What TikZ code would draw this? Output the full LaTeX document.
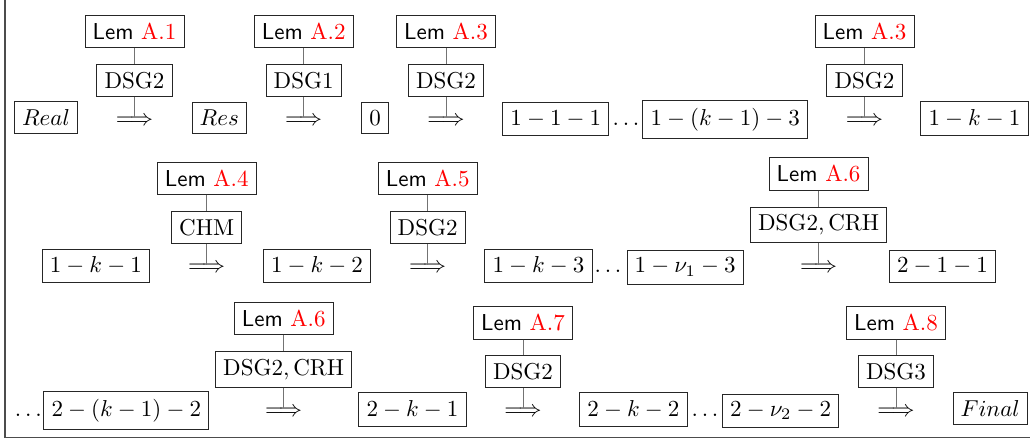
\documentclass[tikz,border=0pt]{standalone}
\usepackage{xcolor}
\newcommand{\lemref}[1]{\textsf{Lem} \textcolor{red}{A.#1}}
\begin{document}
\begin{tikzpicture}[x=0.4348pt,y=-0.4348pt,
  box/.style={draw=black!85, line width=0.4pt, inner sep=3.33pt, anchor=base},
  conn/.style={draw=black!55, line width=0.4pt},
  arr/.style={inner sep=0pt, anchor=base},
  dotsnode/.style={inner sep=0pt, anchor=base},
  frame/.style={draw=black!70, line width=0.6pt}]
\useasboundingbox (0,0) rectangle (1030,442);
\draw[frame] (5,0) -- (5,437.8) -- (1030,437.8);

% ---------- Row 1 ----------
\node[box] (real) at (46,125.4) {$Real$};
\node[arr] (a1) at (134.5,125.4) {$\Longrightarrow$};
\node[box] (d1) at (134.5,88.6) {DSG2};
\node[box] (l1) at (134.5,39.6) {\lemref{1}};
\node[box] (res) at (219.3,125.4) {$Res$};
\node[arr] (a2) at (303.7,125.4) {$\Longrightarrow$};
\node[box] (d2) at (303.7,88.6) {DSG1};
\node[box] (l2) at (303.7,39.6) {\lemref{2}};
\node[box] (zero) at (375,125.4) {$0$};
\node[arr] (a3) at (446,125.4) {$\Longrightarrow$};
\node[box] (d3) at (446,88.6) {DSG2};
\node[box] (l3) at (446,39.6) {\lemref{3}};
\node[box] (b111) at (555.8,125.4) {$1-1-1$};
\node[dotsnode] (p1) at (626,125.4) {$\dots$};
\node[box] (b1k13) at (725.2,125.4) {$1-(k-1)-3$};
\node[arr] (a4) at (864.5,125.4) {$\Longrightarrow$};
\node[box] (d4) at (864.5,88.6) {DSG2};
\node[box] (l4) at (864.5,39.6) {\lemref{3}};
\node[box] (b1k1) at (974.5,125.4) {$1-k-1$};

% ---------- Row 2 ----------
\node[box] (c1k1) at (95.8,273) {$1-k-1$};
\node[arr] (a5) at (206.7,273) {$\Longrightarrow$};
\node[box] (d5) at (206.7,235.2) {CHM};
\node[box] (l5) at (206.7,186.2) {\lemref{4}};
\node[box] (c1k2) at (317,273) {$1-k-2$};
\node[arr] (a6) at (427.7,273) {$\Longrightarrow$};
\node[box] (d6) at (427.7,235.2) {DSG2};
\node[box] (l6) at (427.7,186.2) {\lemref{5}};
\node[box] (c1k3) at (538.5,273) {$1-k-3$};
\node[dotsnode] (p2) at (608,273) {$\dots$};
\node[box] (c1nu3) at (685.1,273) {$1-\nu_1-3$};
\node[arr] (a7) at (818.6,273) {$\Longrightarrow$};
\node[box] (d7) at (818.6,230.7) {$\mathrm{DSG2},\mathrm{CRH}$};
\node[box] (l7) at (818.6,181.9) {\lemref{6}};
\node[box] (c211) at (942.4,273) {$2-1-1$};

% ---------- Row 3 ----------
\node[dotsnode] (p3) at (28.3,416.5) {$\dots$};
\node[box] (e2k12) at (126.3,416.5) {$2-(k-1)-2$};
\node[arr] (a8) at (283.7,416.5) {$\Longrightarrow$};
\node[box] (d8) at (283.7,375.1) {$\mathrm{DSG2},\mathrm{CRH}$};
\node[box] (l8) at (283.7,326.2) {\lemref{6}};
\node[box] (e2k1) at (412.5,416.5) {$2-k-1$};
\node[arr] (a9) at (523,416.5) {$\Longrightarrow$};
\node[box] (d9) at (523,379.6) {DSG2};
\node[box] (l9) at (523,330.9) {\lemref{7}};
\node[box] (e2k2) at (633.4,416.5) {$2-k-2$};
\node[dotsnode] (p4) at (705,416.5) {$\dots$};
\node[box] (e2nu2) at (780.6,416.5) {$2-\nu_2-2$};
\node[arr] (a10) at (896,416.5) {$\Longrightarrow$};
\node[box] (d10) at (896,379.6) {DSG3};
\node[box] (l10) at (896,330.9) {\lemref{8}};
\node[box] (final) at (990.2,416.5) {$Final$};

% ---------- connectors ----------
\foreach \i in {1,...,10}{
  \draw[conn] (l\i.south) -- (d\i.north);
  \draw[conn] (d\i.south) -- ([yshift=3.6pt]a\i.base);
}
\end{tikzpicture}
\end{document}
